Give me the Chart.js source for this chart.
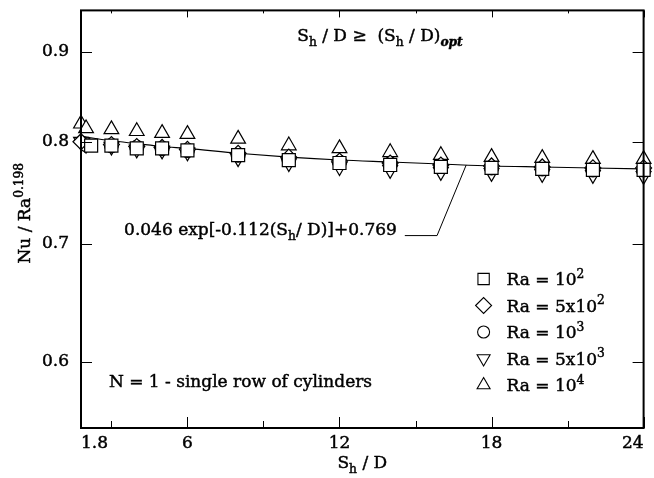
<!DOCTYPE html>
<html>
<head>
<meta charset="utf-8">
<script src="https://cdn.jsdelivr.net/npm/chart.js@4.4.0/dist/chart.umd.min.js"></script>
<style>
  html, body { margin: 0; padding: 0; background: #fff; }
  #wrap { width: 654px; height: 478px; position: relative; }
</style>
</head>
<body>
<div id="wrap"><canvas id="chart"></canvas></div>
<script>
// Values (x = S_h / D, y = Nu / Ra^0.198)
const xRa1e2 = [2.2, 3, 4, 5, 6, 8, 10, 12, 14, 16, 18, 20, 22, 24];
const yRa1e2 = [0.796, 0.796, 0.793, 0.793, 0.791, 0.786, 0.781, 0.778, 0.776, 0.774, 0.773, 0.772, 0.771, 0.771];

const xRa5e2 = [1.8, 3, 4, 5, 6, 8, 10, 12, 14, 16, 18, 20, 22, 24];
const yRa5e2 = [0.800, 0.797, 0.795, 0.794, 0.792, 0.788, 0.784, 0.780, 0.778, 0.776, 0.775, 0.774, 0.773, 0.773];

const xRa1e3 = [2, 3, 4, 5, 6, 8, 10, 12, 14, 16, 18, 20, 22, 24];
const yRa1e3 = [0.797, 0.796, 0.794, 0.793, 0.791, 0.786, 0.782, 0.779, 0.777, 0.775, 0.773, 0.772, 0.771, 0.771];

const xRa5e3 = [1.8, 2, 3, 4, 5, 6, 8, 10, 12, 14, 16, 18, 20, 22, 24];
const yRa5e3 = [0.800, 0.797, 0.795, 0.792, 0.791, 0.789, 0.783, 0.778, 0.774, 0.771, 0.769, 0.768, 0.767, 0.766, 0.765];

const xRa1e4 = [1.8, 2, 3, 4, 5, 6, 8, 10, 12, 14, 16, 18, 20, 22, 24];
const yRa1e4 = [0.819, 0.814, 0.813, 0.811, 0.809, 0.808, 0.803, 0.796, 0.793, 0.789, 0.786, 0.784, 0.783, 0.782, 0.782];

// correlation curve as it appears on the plot
const xCurve = [1.8, 2, 3, 4, 5, 6, 8, 10, 12, 14, 16, 18, 20, 22, 24];
const yCurve = [0.806, 0.805, 0.801, 0.798, 0.795, 0.793, 0.788, 0.784, 0.781, 0.779, 0.777, 0.775, 0.774, 0.773, 0.772];

const xTicks = [1.8, 3, 6, 9, 12, 15, 18, 21, 24];
const xTickLabels = ['1.8', '', '6', '', '12', '', '18', '', '24'];
const yTicks = [0.6, 0.7, 0.8, 0.9];
const yTickLabels = ['0.6', '0.7', '0.8', '0.9'];

const FONT = '"DejaVu Serif", serif';
const FS = 17;
const STROKE = 0.45; // scanned print looks heavier than plain canvas text

// marker styles, in legend order
const markers = [
    { label: [{ t: 'Ra = 10' }, { t: '2', sup: true }], style: 'rect', radius: 9.2, rotation: 0, legendR: 8 },
    { label: [{ t: 'Ra = 5x10' }, { t: '2', sup: true }], style: 'rectRot', radius: 8, rotation: 0, legendR: 8 },
    { label: [{ t: 'Ra = 10' }, { t: '3', sup: true }], style: 'circle', radius: 7, rotation: 0, legendR: 6 },
    { label: [{ t: 'Ra = 5x10' }, { t: '3', sup: true }], style: 'triangle', radius: 8.5, rotation: 180, legendR: 7.5 },
    { label: [{ t: 'Ra = 10' }, { t: '4', sup: true }], style: 'triangle', radius: 8.5, rotation: 0, legendR: 7.5 }
];

function series(i, xs, ys, order) {
    const m = markers[i];
    return {
        type: 'scatter',
        data: xs.map((x, k) => ({ x: x, y: ys[k] })),
        pointStyle: m.style,
        pointRadius: m.radius,
        pointRotation: m.rotation,
        pointBackgroundColor: '#fff',
        pointBorderColor: '#000',
        pointBorderWidth: 1.2,
        showLine: false,
        clip: false,
        order: order
    };
}

function drawRich(ctx, parts, x, y, size, align) {
    const fonts = parts.map(p => {
        const s = (p.sub || p.sup) ? size * 0.72 : size;
        return (p.italic ? 'italic ' : '') + (p.bold ? 'bold ' : '') + s + 'px ' + FONT;
    });
    let total = 0;
    parts.forEach((p, i) => { ctx.font = fonts[i]; total += ctx.measureText(p.t).width; });
    let cx = align === 'center' ? x - total / 2 : (align === 'right' ? x - total : x);
    ctx.textAlign = 'left';
    ctx.textBaseline = 'alphabetic';
    ctx.lineWidth = STROKE;
    ctx.strokeStyle = '#000';
    parts.forEach((p, i) => {
        ctx.font = fonts[i];
        const dy = p.sub ? size * 0.3 : (p.sup ? -size * 0.42 : 0);
        ctx.fillText(p.t, cx, y + dy);
        ctx.strokeText(p.t, cx, y + dy);
        cx += ctx.measureText(p.t).width;
    });
    return total;
}

// annotation anchors in data units
const topNoteAt = [13.6, 0.913];
const eqAt = [3.5, 0.708];
const leaderAt = [[15.85, 0.7075], [17, 0.776]];
const rowNoteAt = [2.9, 0.580];

const decorations = {
    id: 'decorations',
    afterDatasetsDraw(chart) {
        const { ctx, chartArea: a, scales: { x, y } } = chart;
        ctx.save();
        ctx.strokeStyle = '#000';
        ctx.fillStyle = '#000';

        // frame
        ctx.lineWidth = 2;
        ctx.strokeRect(a.left, a.top, a.right - a.left, a.bottom - a.top);

        // inward ticks on all four sides
        ctx.lineWidth = 1;
        ctx.beginPath();
        xTicks.forEach((v, i) => {
            const px = Math.round(x.getPixelForValue(v)) + 0.5;
            const len = xTickLabels[i] ? 11 : 7;
            ctx.moveTo(px, a.bottom); ctx.lineTo(px, a.bottom - len);
            ctx.moveTo(px, a.top); ctx.lineTo(px, a.top + len - 4);
        });
        yTicks.forEach(v => {
            const py = Math.round(y.getPixelForValue(v)) + 0.5;
            ctx.moveTo(a.left, py); ctx.lineTo(a.left + 11, py);
            ctx.moveTo(a.right, py); ctx.lineTo(a.right - 11, py);
        });
        ctx.stroke();

        // axis titles
        drawRich(ctx, [{ t: 'S' }, { t: 'h', sub: true }, { t: ' / D' }],
            (a.left + a.right) / 2, 468, FS, 'center');
        ctx.save();
        ctx.translate(30, (a.top + a.bottom) / 2 - 6);
        ctx.rotate(-Math.PI / 2);
        drawRich(ctx, [{ t: 'Nu / Ra' }, { t: '0.198', sup: true }], 0, 0, FS, 'center');
        ctx.restore();

        // top note
        drawRich(ctx, [{ t: 'S' }, { t: 'h', sub: true }, { t: ' / D ≥  (S' }, { t: 'h', sub: true },
            { t: ' / D)' }, { t: 'opt', sub: true, italic: true, bold: true }],
            x.getPixelForValue(topNoteAt[0]), y.getPixelForValue(topNoteAt[1]), FS, 'center');

        // correlation label and leader
        const ex = x.getPixelForValue(eqAt[0]);
        const ey = y.getPixelForValue(eqAt[1]);
        const w = drawRich(ctx, [{ t: '0.046 exp[-0.112(S' }, { t: 'h', sub: true }, { t: '/ D)]+0.769' }],
            ex, ey, FS, 'left');
        ctx.lineWidth = 1;
        ctx.beginPath();
        ctx.moveTo(ex + w + 8, y.getPixelForValue(leaderAt[0][1]));
        leaderAt.forEach(p => ctx.lineTo(x.getPixelForValue(p[0]), y.getPixelForValue(p[1])));
        ctx.stroke();

        // row note
        drawRich(ctx, [{ t: 'N = 1 - single row of cylinders' }],
            x.getPixelForValue(rowNoteAt[0]), y.getPixelForValue(rowNoteAt[1]), FS, 'left');

        // legend
        markers.forEach((m, i) => {
            const cy = 279 + i * 26.5;
            ctx.fillStyle = '#fff';
            ctx.strokeStyle = '#000';
            ctx.lineWidth = 1.1;
            Chart.helpers.drawPoint(ctx, {
                pointStyle: m.style, rotation: m.rotation,
                radius: m.legendR, borderWidth: 1.1
            }, a.right - 160, cy);
            ctx.fillStyle = '#000';
            drawRich(ctx, m.label, a.right - 137, cy + 6, FS, 'left');
        });
        ctx.restore();
    }
};

new Chart(document.getElementById('chart'), {
    type: 'scatter',
    data: {
        datasets: [
            series(0, xRa1e2, yRa1e2, 1),
            series(1, xRa5e2, yRa5e2, 2),
            series(2, xRa1e3, yRa1e3, 3),
            series(3, xRa5e3, yRa5e3, 4),
            series(4, xRa1e4, yRa1e4, 5),
            {
                type: 'line',
                data: xCurve.map((x, k) => ({ x: x, y: yCurve[k] })),
                borderColor: '#000',
                borderWidth: 1.1,
                pointRadius: 0,
                fill: false,
                cubicInterpolationMode: 'monotone',
                order: 6
            }
        ]
    },
    options: {
        responsive: true,
        maintainAspectRatio: false,
        animation: false,
        events: [],
        layout: { padding: { left: 0, right: 6, top: 7, bottom: 0 } },
        plugins: {
            legend: { display: false },
            tooltip: { enabled: false }
        },
        scales: {
            x: {
                type: 'linear',
                min: 1.8,
                max: 24,
                bounds: 'data',
                grid: { display: false, drawTicks: false },
                border: { display: false },
                afterBuildTicks: s => { s.ticks = xTicks.map(v => ({ value: v })); },
                afterFit: s => { s.height = 50; s.paddingLeft = 0; s.paddingRight = 0; },
                ticks: {
                    autoSkip: false,
                    maxRotation: 0,
                    align: 'inner',
                    padding: 5,
                    color: '#000',
                    textStrokeColor: '#000',
                    textStrokeWidth: STROKE,
                    font: { family: FONT, size: FS },
                    callback: (v, i) => xTickLabels[i]
                }
            },
            y: {
                type: 'logarithmic',
                min: 0.55,
                max: 0.95,
                bounds: 'data',
                grid: { display: false, drawTicks: false },
                border: { display: false },
                afterBuildTicks: s => { s.ticks = yTicks.map(v => ({ value: v })); },
                afterFit: s => { s.width = 81; s.paddingTop = 0; s.paddingBottom = 0; },
                ticks: {
                    autoSkip: false,
                    padding: 12,
                    color: '#000',
                    textStrokeColor: '#000',
                    textStrokeWidth: STROKE,
                    font: { family: FONT, size: FS },
                    callback: (v, i) => yTickLabels[i]
                }
            }
        }
    },
    plugins: [decorations]
});
</script>
</body>
</html>
